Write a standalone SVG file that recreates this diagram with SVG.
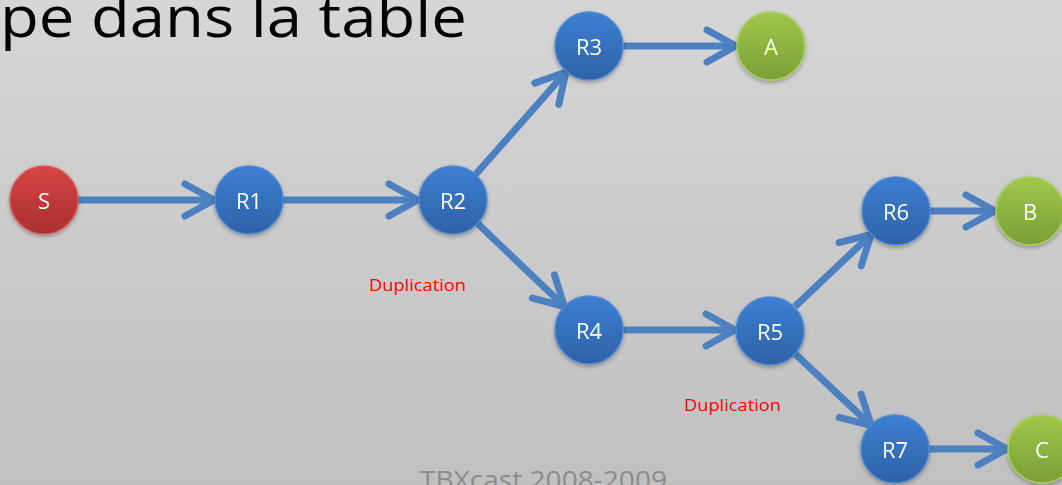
<svg xmlns="http://www.w3.org/2000/svg" width="1062" height="485" viewBox="0 0 1062 485">
<defs>
<linearGradient id="bg" x1="0" y1="0" x2="0" y2="1">
<stop offset="0" stop-color="#d6d6d6"/>
<stop offset="1" stop-color="#c0c0c0"/>
</linearGradient>
<linearGradient id="gBlue" x1="0" y1="0" x2="0" y2="1">
<stop offset="0" stop-color="#3c7fd2"/>
<stop offset="1" stop-color="#2e62a6"/>
</linearGradient>
<linearGradient id="gRed" x1="0" y1="0" x2="0" y2="1">
<stop offset="0" stop-color="#d64444"/>
<stop offset="1" stop-color="#a92f2f"/>
</linearGradient>
<linearGradient id="gGreen" x1="0" y1="0" x2="0" y2="1">
<stop offset="0" stop-color="#9fc84c"/>
<stop offset="1" stop-color="#7a9f36"/>
</linearGradient>
<filter id="sh" x="-30%" y="-30%" width="160%" height="160%">
<feDropShadow dx="0" dy="2" stdDeviation="2" flood-color="#000" flood-opacity="0.3"/>
</filter>
<marker id="chev" markerUnits="userSpaceOnUse" viewBox="-40 -25 48 50" markerWidth="48" markerHeight="50" refX="0" refY="0" orient="auto">
<path d="M -29 -16 L 0 0 L -29 16" fill="none" stroke="#4d80c0" stroke-width="7" stroke-linecap="round" stroke-linejoin="round"/>
</marker>
<style>
.conn{stroke:#4d80c0;stroke-width:7;fill:none;marker-end:url(#chev)}
.node{filter:url(#sh)}
.blue{fill:url(#gBlue);stroke:#4d89d6;stroke-width:1.5}
.red{fill:url(#gRed);stroke:#dd5a5a;stroke-width:1.5}
.green{fill:url(#gGreen);stroke:#a9cf5e;stroke-width:1.5}
.lbl{font-family:"Open Sans","Liberation Sans",sans-serif;font-size:22px;fill:#ffffff;text-anchor:middle;dominant-baseline:central}
.dup{font-family:"Open Sans","Liberation Sans",sans-serif;font-size:17px;fill:#ff0000}
</style>
</defs>
<rect width="1062" height="485" fill="url(#bg)"/>
<text x="0" y="37" font-family="Open Sans, Liberation Sans, sans-serif" font-size="57" fill="#000" textLength="467" lengthAdjust="spacingAndGlyphs">pe dans la table</text>
<text x="420" y="489" font-family="Open Sans, Liberation Sans, sans-serif" font-size="25" fill="#8c8c8c" textLength="247" lengthAdjust="spacingAndGlyphs">TBXcast 2008-2009</text>
<g id="connectors">
<line class="conn" x1="78" y1="200" x2="214" y2="200"/>
<line class="conn" x1="283" y1="200" x2="418" y2="200"/>
<line class="conn" x1="475.5" y1="174.5" x2="566" y2="72"/>
<line class="conn" x1="623" y1="46" x2="736" y2="46"/>
<line class="conn" x1="477.6" y1="223.5" x2="564.4" y2="306.5"/>
<line class="conn" x1="623" y1="330" x2="735" y2="330"/>
<line class="conn" x1="794.8" y1="306.6" x2="871.2" y2="234.4"/>
<line class="conn" x1="930" y1="211" x2="995" y2="211"/>
<line class="conn" x1="794.7" y1="353.4" x2="871.3" y2="425.6"/>
<line class="conn" x1="929" y1="449" x2="1007" y2="449"/>
</g>
<g id="S" class="node"><circle class="red" cx="44" cy="200" r="34"/><text class="lbl" x="44" y="200">S</text></g>
<g id="R1" class="node"><circle class="blue" cx="249" cy="200" r="34"/><text class="lbl" x="249" y="200">R1</text></g>
<g id="R2" class="node"><circle class="blue" cx="453" cy="200" r="34"/><text class="lbl" x="453" y="200">R2</text></g>
<g id="R3" class="node"><circle class="blue" cx="589" cy="46" r="34"/><text class="lbl" x="589" y="46">R3</text></g>
<g id="A" class="node"><circle class="green" cx="771" cy="46" r="34"/><text class="lbl" x="771" y="46">A</text></g>
<g id="R4" class="node"><circle class="blue" cx="589" cy="330" r="34"/><text class="lbl" x="589" y="330">R4</text></g>
<g id="R5" class="node"><circle class="blue" cx="770" cy="331" r="34"/><text class="lbl" x="770" y="331">R5</text></g>
<g id="R6" class="node"><circle class="blue" cx="896" cy="211" r="34"/><text class="lbl" x="896" y="211">R6</text></g>
<g id="B" class="node"><circle class="green" cx="1030" cy="211" r="34"/><text class="lbl" x="1030" y="211">B</text></g>
<g id="R7" class="node"><circle class="blue" cx="895" cy="449" r="34"/><text class="lbl" x="895" y="449">R7</text></g>
<g id="C" class="node"><circle class="green" cx="1042" cy="449" r="34"/><text class="lbl" x="1042" y="449">C</text></g>
<text class="dup" x="369" y="291" textLength="97" lengthAdjust="spacingAndGlyphs">Duplication</text>
<text class="dup" x="684" y="411" textLength="97" lengthAdjust="spacingAndGlyphs">Duplication</text>
</svg>
